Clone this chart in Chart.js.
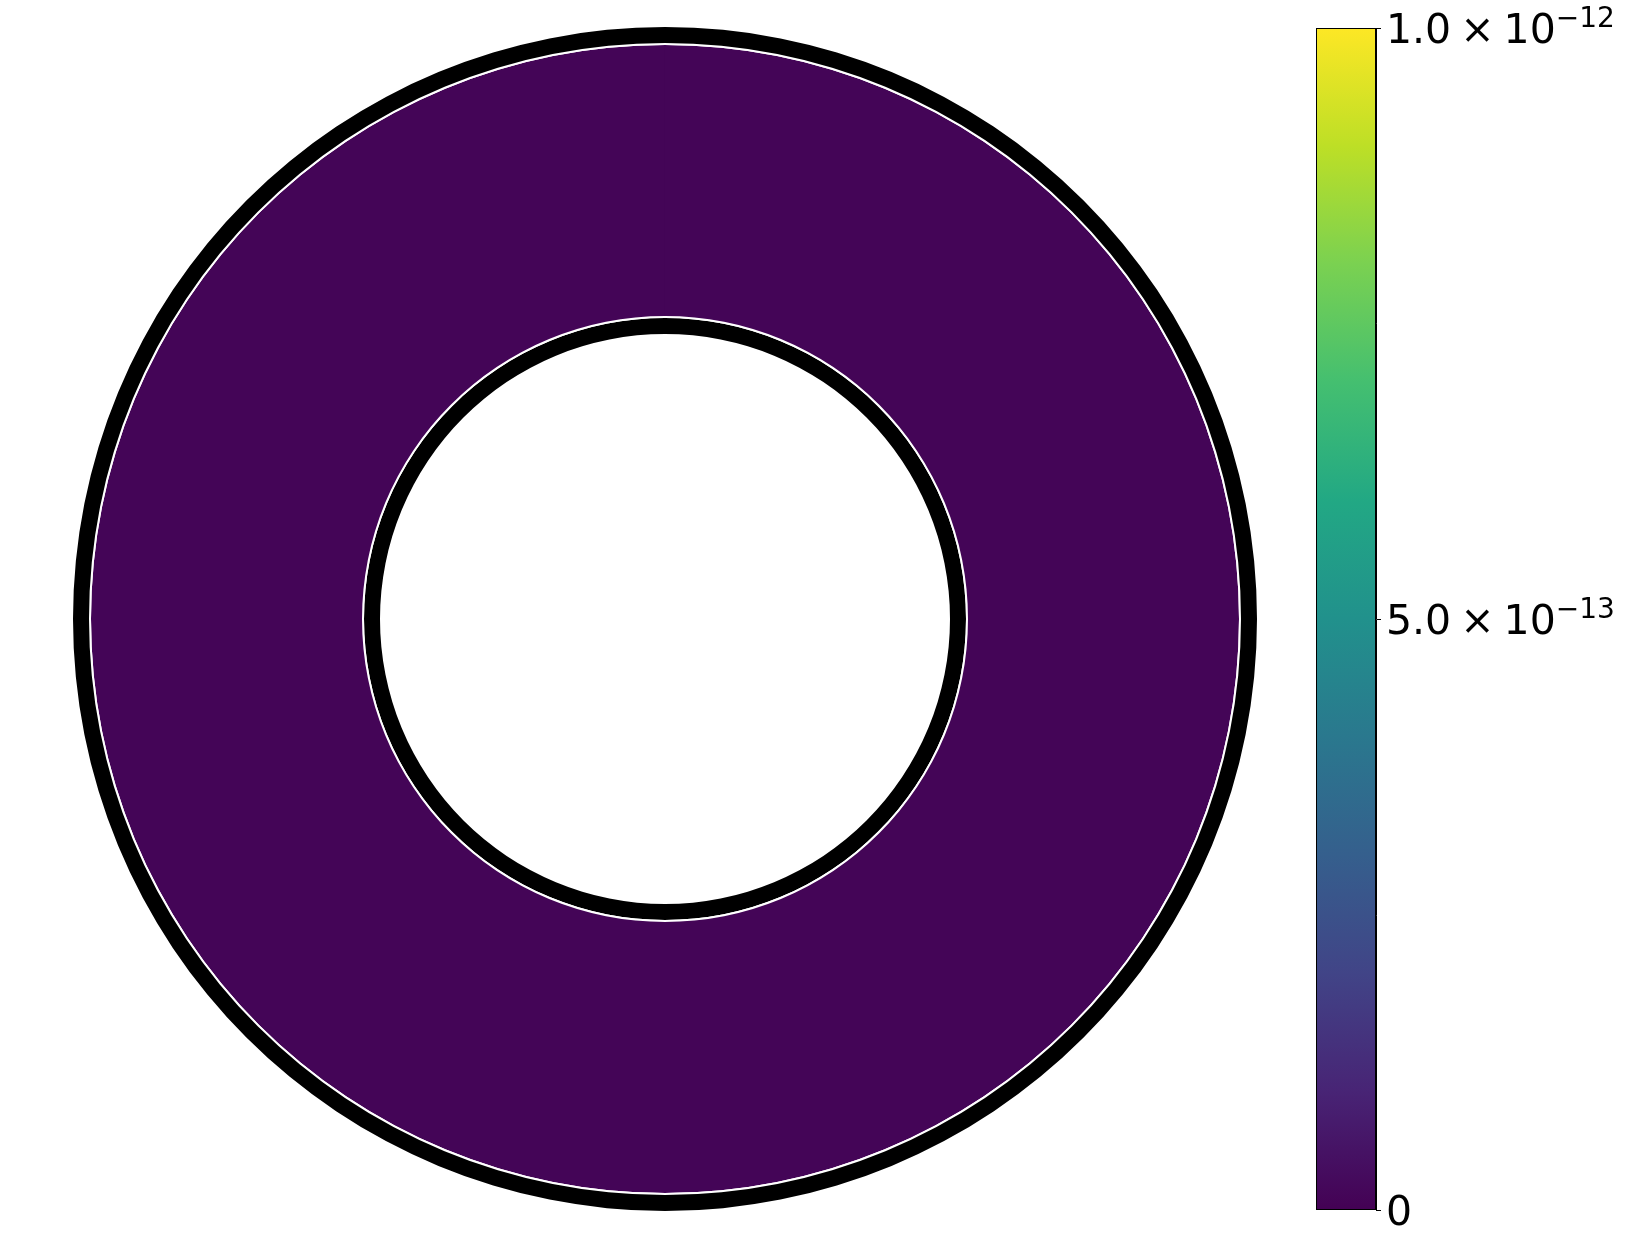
<!DOCTYPE html>
<html>
<head>
<meta charset="utf-8">
<script src="https://cdn.jsdelivr.net/npm/chart.js@4.4.1/dist/chart.umd.min.js"></script>
<style>
  html, body { margin: 0; padding: 0; background: #fff; }
  #wrap { position: relative; width: 1634px; height: 1252px; overflow: hidden; }
  #ring { position: absolute; left: 0; top: 0; }
  #cbar { position: absolute; left: 1300px; top: 0; }
</style>
</head>
<body>
<div id="wrap">
  <canvas id="ring" width="1300" height="1252"></canvas>
  <canvas id="cbar" width="334" height="1252"></canvas>
</div>
<script>
// ====== DATA ======
const vmin = 0;
const vmax = 1e-12;
const colorbarTicks = [0, 5e-13, 1e-12];
const tickMantissa = ['0', '5.0', '1.0'];
const tickExponent = [null, '\u221213', '\u221212'];
const fieldValue = 1e-14; // the field is ~0 everywhere in the annulus

// ====== COLORMAP (viridis) ======
const viridisStops = ['#440154', '#482475', '#414487', '#355f8d', '#2a788e', '#21918c',
                      '#22a884', '#44bf70', '#7ad151', '#bddf26', '#fde725'];
function hexToRgb(h) {
  return [parseInt(h.slice(1,3),16), parseInt(h.slice(3,5),16), parseInt(h.slice(5,7),16)];
}
function viridis(t) {
  t = Math.min(1, Math.max(0, t));
  const pos = t * (viridisStops.length - 1);
  const i = Math.min(Math.floor(pos), viridisStops.length - 2);
  const f = pos - i;
  const a = hexToRgb(viridisStops[i]), b = hexToRgb(viridisStops[i+1]);
  const c = a.map((v, k) => Math.round(v + (b[k] - v) * f));
  return `rgb(${c[0]},${c[1]},${c[2]})`;
}

// ====== ANNULUS (doughnut) ======
const fillColor = viridis((fieldValue - vmin) / (vmax - vmin));
new Chart(document.getElementById('ring').getContext('2d'), {
  type: 'doughnut',
  data: {
    labels: ['field'],
    datasets: [
      { data: [1], backgroundColor: '#000000', weight: 16 },          // outer wall
      { data: [1], backgroundColor: '#ffffff', weight: 2 },
      { data: [fieldValue], backgroundColor: fillColor, weight: 271 }, // field
      { data: [1], backgroundColor: '#ffffff', weight: 2 },
      { data: [1], backgroundColor: '#000000', weight: 16 }           // inner wall
    ]
  },
  options: {
    responsive: false,
    animation: false,
    events: [],
    cutout: 285,
    layout: { padding: { left: 73, top: 27, right: 43, bottom: 41 } },
    elements: { arc: { borderWidth: 0, hoverOffset: 0 } },
    plugins: { legend: { display: false }, tooltip: { enabled: false } }
  }
});

// ====== COLORBAR ======
const cbarLabels = {
  id: 'cbarLabels',
  afterDraw(chart) {
    const ctx = chart.ctx, area = chart.chartArea, y = chart.scales.y;
    ctx.save();
    // outline
    ctx.strokeStyle = '#000';
    ctx.lineWidth = 1;
    ctx.strokeRect(area.left + 0.5, area.top + 0.5, area.right - area.left - 1, area.bottom - area.top - 1);
    ctx.fillStyle = '#000';
    ctx.textBaseline = 'alphabetic';
    colorbarTicks.forEach((v, i) => {
      const py = y.getPixelForValue(v);
      let x = area.right + 10;
      ctx.font = '41px "DejaVu Sans"';
      if (!tickExponent[i]) {
        ctx.fillText(tickMantissa[i], x, py + 15);
        return;
      }
      const gap = 9;
      ctx.fillText(tickMantissa[i], x, py + 15);
      x += ctx.measureText(tickMantissa[i]).width + gap;
      ctx.fillText('\u00d7', x, py + 15);
      x += ctx.measureText('\u00d7').width + gap;
      ctx.fillText('10', x, py + 15);
      x += ctx.measureText('10').width;
      ctx.font = '28px "DejaVu Sans"';
      ctx.fillText(tickExponent[i], x, py - 1);
    });
    ctx.restore();
  }
};

new Chart(document.getElementById('cbar').getContext('2d'), {
  type: 'bar',
  data: {
    labels: [''],
    datasets: [{
      data: [vmax],
      barPercentage: 1,
      categoryPercentage: 1,
      borderWidth: 0,
      backgroundColor: (c) => {
        const a = c.chart.chartArea;
        if (!a) return viridisStops[0];
        const g = c.chart.ctx.createLinearGradient(0, a.bottom, 0, a.top);
        viridisStops.forEach((col, k) => g.addColorStop(k / (viridisStops.length - 1), col));
        return g;
      }
    }]
  },
  options: {
    responsive: false,
    animation: false,
    events: [],
    layout: { padding: { left: 16, top: 28, right: 0, bottom: 42 } },
    plugins: { legend: { display: false }, tooltip: { enabled: false } },
    scales: {
      x: { display: false },
      y: {
        position: 'right',
        min: vmin,
        max: vmax,
        afterBuildTicks: (s) => { s.ticks = colorbarTicks.map(v => ({ value: v })); },
        afterFit: (s) => { s.width = 258; },
        ticks: { display: false },
        grid: { drawOnChartArea: false, drawTicks: true, tickLength: 5, color: '#000', lineWidth: 1 },
        border: { display: true, color: '#000', width: 1 }
      }
    }
  },
  plugins: [cbarLabels]
});
</script>
</body>
</html>
